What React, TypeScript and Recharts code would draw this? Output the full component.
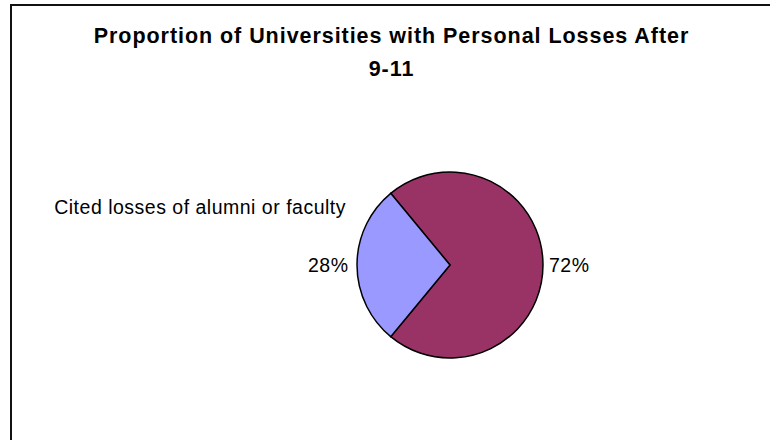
import React from 'react';
import { PieChart, Pie, Cell, Customized } from 'recharts';

const titleLines = ['Proportion of Universities with Personal Losses After', '9-11'];
const categories = ['', 'Cited losses of alumni or faculty'];
const values = [72, 28];
const colors = ['#993366', '#9999FF'];

const data = categories.map((name, i) => ({ name, value: values[i] }));
const total = values.reduce((a, b) => a + b, 0);
const startAngle = 180 + (values[1] / total) * 180;

const FONT = '"Liberation Sans", Arial, sans-serif';
const RAD = Math.PI / 180;

const renderLabel = (props: any) => {
  const { cx, cy, midAngle, outerRadius, percent, name } = props;
  const cos = Math.cos(-midAngle * RAD);
  const sin = Math.sin(-midAngle * RAD);
  const r = outerRadius + (cos >= 0 ? 6 : 8.5);
  const x = cx + r * cos;
  const y = cy + r * sin;
  const anchor = cos >= 0 ? 'start' : 'end';
  return (
    <g>
      <text
        x={x}
        y={y + 6.5}
        textAnchor={anchor}
        fontFamily={FONT}
        fontSize={19.5}
        letterSpacing={0.5}
        fill="#000"
      >
        {`${Math.round(percent * 100)}%`}
      </text>
      {name ? (
        <text
          x={x - 2.5}
          y={y - 51}
          textAnchor={anchor}
          fontFamily={FONT}
          fontSize={19.5}
          letterSpacing={0.5}
          fill="#000"
        >
          {name}
        </text>
      ) : null}
    </g>
  );
};

const Decor = () => (
  <g>
    <rect x={11} y={5} width={800} height={500} fill="none" stroke="#111" strokeWidth={2} />
    {titleLines.map((t, i) => (
      <text
        key={i}
        x={391.5}
        y={43 + i * 32.5}
        textAnchor="middle"
        fontFamily={FONT}
        fontSize={21.5}
        fontWeight="bold"
        letterSpacing={0.95}
        fill="#000"
      >
        {t}
      </text>
    ))}
  </g>
);

export default function App() {
  return (
    <div style={{ position: 'absolute', left: 0, top: 0, width: 770, height: 440, overflow: 'hidden', background: '#fff' }}>
      <PieChart width={770} height={440} margin={{ top: 0, right: 0, bottom: 0, left: 0 }}>
        <Customized component={Decor} />
        <Pie
          data={data}
          dataKey="value"
          nameKey="name"
          cx={450}
          cy={265}
          outerRadius={93}
          startAngle={startAngle}
          endAngle={startAngle + 360}
          stroke="#000"
          strokeWidth={1.5}
          label={renderLabel}
          labelLine={false}
          isAnimationActive={false}
        >
          {data.map((d, i) => (
            <Cell key={i} fill={colors[i]} />
          ))}
        </Pie>
      </PieChart>
    </div>
  );
}
